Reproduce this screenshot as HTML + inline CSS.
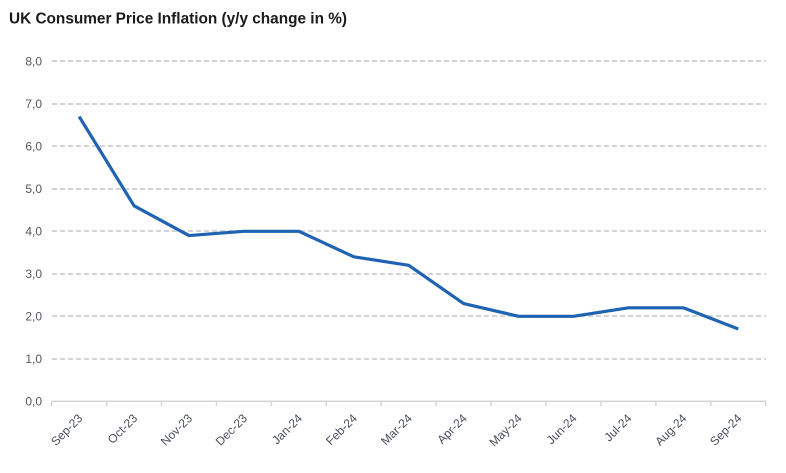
<!DOCTYPE html>
<html><head><meta charset="utf-8"><style>
html,body{margin:0;padding:0;background:#fff;}
svg{display:block;}
text{font-family:"Liberation Sans",sans-serif;}
</style></head><body>
<svg width="786" height="473" viewBox="0 0 786 473" xmlns="http://www.w3.org/2000/svg">
<rect width="786" height="473" fill="#fff"/>
<text x="9" y="23.5" font-size="15.5" font-weight="bold" fill="#1a1a1a" textLength="338" lengthAdjust="spacingAndGlyphs">UK Consumer Price Inflation (y/y change in %)</text>
<g stroke="#d3d3da" stroke-width="2" stroke-dasharray="5,3">
<line x1="52" y1="61" x2="766" y2="61"/>
<line x1="52" y1="104" x2="766" y2="104"/>
<line x1="52" y1="146" x2="766" y2="146"/>
<line x1="52" y1="189" x2="766" y2="189"/>
<line x1="52" y1="231" x2="766" y2="231"/>
<line x1="52" y1="274" x2="766" y2="274"/>
<line x1="52" y1="316" x2="766" y2="316"/>
<line x1="52" y1="359" x2="766" y2="359"/>
</g>
<g stroke="#d6d6d6" stroke-width="1.5">
<line x1="51.7" y1="401.3" x2="765.7" y2="401.3"/>
<line x1="51.7" y1="401" x2="51.7" y2="406"/>
<line x1="106.6" y1="401" x2="106.6" y2="406"/>
<line x1="161.5" y1="401" x2="161.5" y2="406"/>
<line x1="216.5" y1="401" x2="216.5" y2="406"/>
<line x1="271.4" y1="401" x2="271.4" y2="406"/>
<line x1="326.3" y1="401" x2="326.3" y2="406"/>
<line x1="381.2" y1="401" x2="381.2" y2="406"/>
<line x1="436.2" y1="401" x2="436.2" y2="406"/>
<line x1="491.1" y1="401" x2="491.1" y2="406"/>
<line x1="546.0" y1="401" x2="546.0" y2="406"/>
<line x1="600.9" y1="401" x2="600.9" y2="406"/>
<line x1="655.9" y1="401" x2="655.9" y2="406"/>
<line x1="710.8" y1="401" x2="710.8" y2="406"/>
<line x1="765.7" y1="401" x2="765.7" y2="406"/>
</g>
<g font-size="12" fill="#55565f" text-anchor="end">
<text x="42" y="65.5">8,0</text>
<text x="42" y="108">7,0</text>
<text x="42" y="150.5">6,0</text>
<text x="42" y="193">5,0</text>
<text x="42" y="235.5">4,0</text>
<text x="42" y="278">3,0</text>
<text x="42" y="320.5">2,0</text>
<text x="42" y="363">1,0</text>
<text x="42" y="405.5">0,0</text>
</g>
<g font-size="12" fill="#4a4f5e" text-anchor="end">
<text transform="translate(83.2,419) rotate(-45)">Sep-23</text>
<text transform="translate(138.1,419) rotate(-45)">Oct-23</text>
<text transform="translate(193.0,419) rotate(-45)">Nov-23</text>
<text transform="translate(247.9,419) rotate(-45)">Dec-23</text>
<text transform="translate(302.9,419) rotate(-45)">Jan-24</text>
<text transform="translate(357.8,419) rotate(-45)">Feb-24</text>
<text transform="translate(412.7,419) rotate(-45)">Mar-24</text>
<text transform="translate(467.6,419) rotate(-45)">Apr-24</text>
<text transform="translate(522.6,419) rotate(-45)">May-24</text>
<text transform="translate(577.5,419) rotate(-45)">Jun-24</text>
<text transform="translate(632.4,419) rotate(-45)">Jul-24</text>
<text transform="translate(687.4,419) rotate(-45)">Aug-24</text>
<text transform="translate(742.3,419) rotate(-45)">Sep-24</text>
</g>
<polyline fill="none" stroke="#1f63b2" stroke-width="3.2" stroke-linejoin="round" stroke-linecap="butt"
points="79.16,116.55 134.08,205.8 189.0,235.55 243.9,231.3 298.9,231.3 353.8,256.8 408.7,265.3 463.6,303.55 518.6,316.3 573.5,316.3 628.4,307.8 683.4,307.8 738.3,329.05"/>
</svg>
</body></html>
